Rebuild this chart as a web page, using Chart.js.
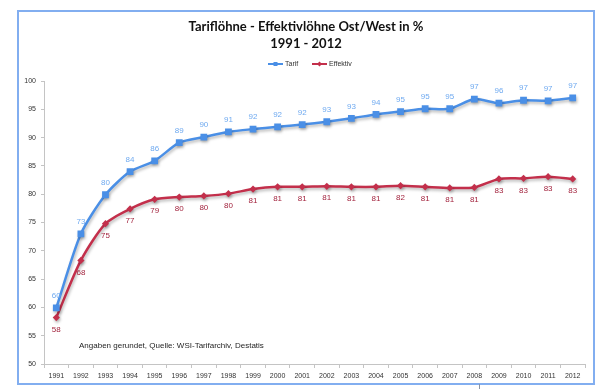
<!DOCTYPE html>
<html>
<head>
<meta charset="utf-8">
<script src="https://cdn.jsdelivr.net/npm/chart.js@4"></script>
<style>
  html, body { margin: 0; padding: 0; background: #fff; }
  #wrap { position: relative; width: 600px; height: 389px; }
  #frame { position: absolute; left: 17px; top: 10px; width: 574px; height: 371px; border: 2px solid #82aef0; box-sizing: content-box; }
  #mark { position: absolute; left: 479px; top: 384px; width: 1px; height: 5px; background: #8a96a8; }
  canvas { position: absolute; left: 0; top: 0; }
</style>
</head>
<body>
<div id="wrap">
  <div id="frame"></div>
  <div id="mark"></div>
  <canvas id="chart" width="600" height="389"></canvas>
</div>
<script>
const years = ['1991','1992','1993','1994','1995','1996','1997','1998','1999','2000','2001',
  '2002','2003','2004','2005','2006','2007','2008','2009','2010','2011','2012'];
const tarif = [59.9, 73.0, 79.9, 84.0, 85.9, 89.1, 90.1, 91.0, 91.5, 91.9, 92.3,
  92.8, 93.4, 94.1, 94.6, 95.1, 95.1, 96.8, 96.1, 96.6, 96.5, 97.0];
const effektiv = [58.2, 68.3, 74.8, 77.4, 79.1, 79.5, 79.7, 80.1, 80.9, 81.3, 81.3,
  81.4, 81.3, 81.3, 81.5, 81.3, 81.1, 81.2, 82.7, 82.8, 83.1, 82.7];
const titleLines = ['Tariflöhne - Effektivlöhne Ost/West in %', '1991 - 2012'];

const FONT = '"Liberation Sans", Arial, sans-serif';
const TITLE_FONT = 'Lato, "Liberation Sans", sans-serif';
const blue = '#4a8fe6';
const blueLabel = '#6faaf0';
const red = '#c32f4b';
const redLabel = '#a3253f';

const extras = {
  id: 'extras',
  beforeDatasetsDraw(chart) {
    const ctx = chart.ctx;
    ctx.save();
    ctx.shadowColor = 'rgba(0,0,0,0.28)';
    ctx.shadowBlur = 3;
    ctx.shadowOffsetX = 1;
    ctx.shadowOffsetY = 2;
  },
  afterDatasetsDraw(chart) {
    const ctx = chart.ctx;
    ctx.restore();
    ctx.save();
    ctx.textAlign = 'center';
    ctx.textBaseline = 'middle';
    ctx.font = '8px ' + FONT;
    chart.data.datasets.forEach((ds, i) => {
      const meta = chart.getDatasetMeta(i);
      ctx.fillStyle = i === 0 ? blueLabel : redLabel;
      meta.data.forEach((pt, j) => {
        const off = i === 0 ? -12 : 12;
        ctx.fillText(String(Math.round(ds.data[j])), pt.x, pt.y + off);
      });
    });

    // Titel
    ctx.fillStyle = '#111';
    ctx.font = 'bold 13px ' + TITLE_FONT;
    ctx.fillText(titleLines[0], 306, 27);
    ctx.fillText(titleLines[1], 306, 44);

    // Quelle
    ctx.textAlign = 'left';
    ctx.fillStyle = '#1e1e1e';
    ctx.font = '8px ' + FONT;
    ctx.fillText('Angaben gerundet, Quelle: WSI-Tarifarchiv, Destatis', 79, 346);

    // Legende
    const items = [
      {label: 'Tarif', color: blue, style: 'rect', x: 268},
      {label: 'Effektiv', color: red, style: 'rectRot', x: 312}
    ];
    const ly = 64;
    ctx.font = '7px ' + FONT;
    items.forEach(it => {
      ctx.strokeStyle = it.color;
      ctx.lineWidth = 2;
      ctx.beginPath();
      ctx.moveTo(it.x, ly);
      ctx.lineTo(it.x + 15, ly);
      ctx.stroke();
      ctx.fillStyle = it.color;
      if (it.style === 'rect') {
        ctx.fillRect(it.x + 5.5, ly - 2, 4, 4);
      } else {
        ctx.beginPath();
        ctx.moveTo(it.x + 7.5, ly - 2.5);
        ctx.lineTo(it.x + 10, ly);
        ctx.lineTo(it.x + 7.5, ly + 2.5);
        ctx.lineTo(it.x + 5, ly);
        ctx.closePath();
        ctx.fill();
      }
      ctx.fillStyle = '#333';
      ctx.fillText(it.label, it.x + 17, ly);
    });
    ctx.restore();
  }
};

new Chart(document.getElementById('chart'), {
  type: 'line',
  data: {
    labels: years,
    datasets: [{
      label: 'Tarif',
      data: tarif,
      borderColor: blue,
      backgroundColor: blue,
      borderWidth: 2.5,
      pointStyle: 'rect',
      pointRadius: 4.8,
      pointBorderWidth: 0,
      tension: 0.25
    }, {
      label: 'Effektiv',
      data: effektiv,
      borderColor: red,
      backgroundColor: red,
      borderWidth: 2.5,
      pointStyle: 'rectRot',
      pointRadius: 3.6,
      pointBorderWidth: 0,
      tension: 0.25
    }]
  },
  options: {
    responsive: false,
    animation: false,
    layout: { padding: { left: 8, right: 15, top: 81, bottom: 4 } },
    plugins: {
      legend: { display: false },
      tooltip: { enabled: false },
      title: { display: false }
    },
    scales: {
      x: {
        offset: true,
        grid: { offset: true, drawOnChartArea: false, tickLength: 4, color: '#c4c4c4' },
        border: { color: '#c4c4c4' },
        ticks: { color: '#333', font: { family: FONT, size: 7 }, padding: 4, maxRotation: 0, autoSkip: false },
        afterFit(scale) { scale.height = 21; }
      },
      y: {
        min: 50,
        max: 100,
        grid: { drawOnChartArea: false, tickLength: 3, color: '#c4c4c4' },
        border: { color: '#c4c4c4' },
        ticks: { stepSize: 5, color: '#333', font: { family: FONT, size: 7 }, padding: 5 },
        afterFit(scale) { scale.width = 36; }
      }
    }
  },
  plugins: [extras]
});
</script>
</body>
</html>
